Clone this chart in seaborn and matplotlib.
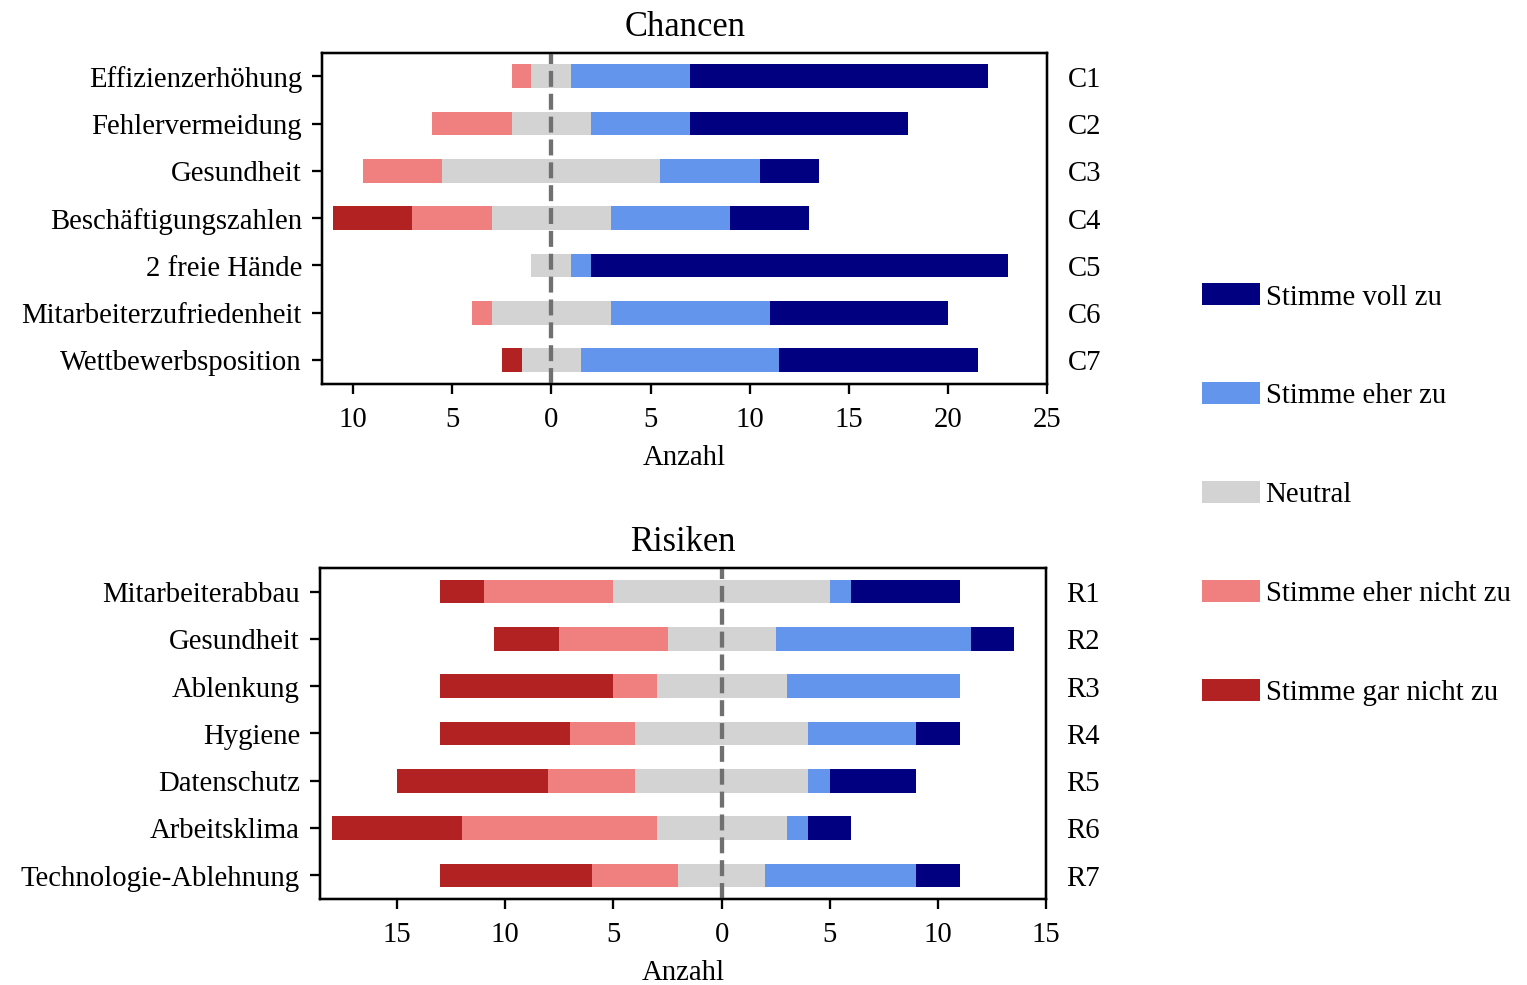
import matplotlib
matplotlib.use("Agg")
import matplotlib.pyplot as plt
from matplotlib.patches import Patch
from matplotlib.ticker import MultipleLocator, FuncFormatter
import numpy as np
import pandas as pd
import seaborn as sns

plt.rcParams["font.family"] = ["Liberation Serif", "DejaVu Serif"]
plt.rcParams["font.size"] = 10

# Answer levels (negative -> positive) and their colours
levels = ["Stimme gar nicht zu", "Stimme eher nicht zu", "Neutral",
          "Stimme eher zu", "Stimme voll zu"]
level_colors = ["firebrick", "lightcoral", "lightgray", "cornflowerblue", "navy"]

# Chancen
chancen_labels = ["Effizienzerhöhung", "Fehlervermeidung", "Gesundheit",
                  "Beschäftigungszahlen", "2 freie Hände",
                  "Mitarbeiterzufriedenheit", "Wettbewerbsposition"]
chancen_codes = ["C1", "C2", "C3", "C4", "C5", "C6", "C7"]
chancen_gar_nicht = [0, 0, 0, 4, 0, 0, 1]
chancen_eher_nicht = [1, 4, 4, 4, 0, 1, 0]
chancen_neutral = [2, 4, 11, 6, 2, 6, 3]
chancen_eher_zu = [6, 5, 5, 6, 1, 8, 10]
chancen_voll_zu = [15, 11, 3, 4, 21, 9, 10]

# Risiken
risiken_labels = ["Mitarbeiterabbau", "Gesundheit", "Ablenkung", "Hygiene",
                  "Datenschutz", "Arbeitsklima", "Technologie-Ablehnung"]
risiken_codes = ["R1", "R2", "R3", "R4", "R5", "R6", "R7"]
risiken_gar_nicht = [2, 3, 8, 6, 7, 6, 7]
risiken_eher_nicht = [6, 5, 2, 3, 4, 9, 4]
risiken_neutral = [10, 5, 6, 8, 8, 6, 4]
risiken_eher_zu = [1, 9, 8, 5, 1, 1, 7]
risiken_voll_zu = [5, 2, 0, 2, 4, 2, 2]


def diverging_bars(ax, labels, codes, series, xlim, title):
    counts = np.array(series, dtype=float)
    n = len(labels)
    # neutral answers are split evenly around zero
    origin = -(counts[0] + counts[1] + counts[2] / 2)
    starts = origin + np.vstack([np.zeros(n), np.cumsum(counts, axis=0)[:-1]])
    for k in range(len(levels)):
        df = pd.DataFrame({"Kategorie": labels, "Anzahl": counts[k]})
        sns.barplot(data=df, x="Anzahl", y="Kategorie", order=labels,
                    orient="y", color=level_colors[k], saturation=1,
                    width=0.5, errorbar=None, left=starts[k],
                    linewidth=0, ax=ax)
    ax.axvline(0, color="#707070", linestyle="--", linewidth=1.5, zorder=3)
    ax.set_xlim(*xlim)
    ax.set_ylim(n - 0.5, -0.5)
    ax.xaxis.set_major_locator(MultipleLocator(5))
    ax.xaxis.set_major_formatter(FuncFormatter(lambda v, p: f"{abs(v):g}"))
    ax.tick_params(axis="x", pad=4.5)
    ax.set_xlabel("Anzahl")
    ax.set_ylabel("")
    ax.set_title(title, fontsize=12)
    for s in ax.spines.values():
        s.set_visible(True)
        s.set_color("black")

    ax2 = ax.twinx()
    ax2.set_ylim(ax.get_ylim())
    ax2.set_yticks(range(n))
    ax2.set_yticklabels(codes)
    ax2.tick_params(axis="y", length=0, pad=7)


fig = plt.figure(figsize=(1527.4 / 207, 985.4 / 207), dpi=207)
ax_top = fig.add_axes([0.2109, 0.6102, 0.4748, 0.3360])
ax_bot = fig.add_axes([0.2096, 0.0873, 0.4754, 0.3360])

diverging_bars(ax_top, chancen_labels, chancen_codes,
               [chancen_gar_nicht, chancen_eher_nicht, chancen_neutral,
                chancen_eher_zu, chancen_voll_zu],
               (-11.55, 25), "Chancen")
diverging_bars(ax_bot, risiken_labels, risiken_codes,
               [risiken_gar_nicht, risiken_eher_nicht, risiken_neutral,
                risiken_eher_zu, risiken_voll_zu],
               (-18.55, 15), "Risiken")

handles = [Patch(facecolor=c, edgecolor="none", label=l)
           for l, c in zip(levels[::-1], level_colors[::-1])]
fig.legend(handles=handles, loc="upper left", bbox_to_anchor=(0.7702, 0.7385),
           frameon=False, handletextpad=0.2, labelspacing=2.5,
           handleheight=0.8)

fig.savefig("out.png", dpi=207)
